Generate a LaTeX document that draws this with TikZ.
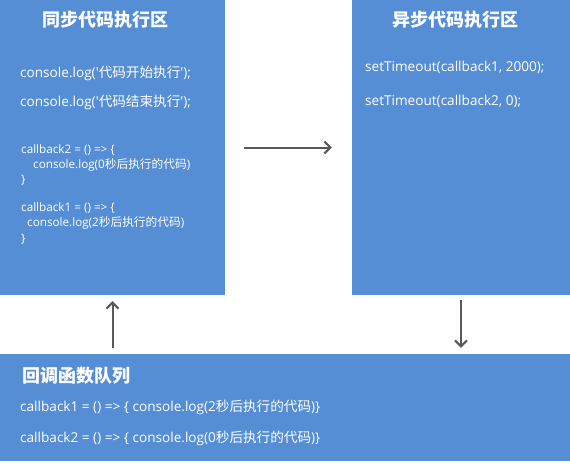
\documentclass[tikz,border=0pt]{standalone}
\usepackage{fontspec}
\setmainfont{Open Sans}
\newfontfamily\cjk{Noto Sans CJK SC}
\usetikzlibrary{arrows.meta}
\definecolor{boxblue}{HTML}{558ED5}
\definecolor{arrowgray}{HTML}{595959}
\newcommand{\zh}[1]{{\cjk #1}}
\newcommand{\sq}{\textquotesingle}
\tikzset{
  panel/.style={fill=boxblue, draw=none, inner sep=0pt},
  title/.style={text=white, inner sep=0pt, font=\cjk\bfseries\fontsize{18}{20}\selectfont},
  codebig/.style={text=white, inner sep=0pt, anchor=west, font=\fontsize{13.6}{15}\selectfont},
  codesmall/.style={text=white, inner sep=0pt, anchor=west, font=\fontsize{11.7}{13}\selectfont},
  flow/.style={draw=arrowgray, line width=2pt, -{Straight Barb[length=6pt,width=12pt,line width=2pt]}},
}
\begin{document}
\begin{tikzpicture}[x=1pt,y=-1pt]
\useasboundingbox (0,0) rectangle (570,467);
\node[panel, minimum width=225pt, minimum height=295pt] (sync) at (112.5,147.5) {};
\node[panel, minimum width=218pt, minimum height=295pt] (async) at (461,147.5) {};
\node[panel, minimum width=570pt, minimum height=107pt] (queue) at (285,407.5) {};

\node[title] (t1) at (105,20) {同步代码执行区};
\node[codebig] (s1) at (20,73) {console.log(\sq\zh{代码开始执行}\sq);};
\node[codebig] (s2) at (20,102) {console.log(\sq\zh{代码结束执行}\sq);};
\node[codesmall] (c1) at (21,150) {callback2 = () => \{};
\node[codesmall] (c2) at (33,165) {console.log(0\zh{秒后执行的代码})};
\node[codesmall] (c3) at (21,180) {\}};
\node[codesmall] (c4) at (21,208) {callback1 = () => \{};
\node[codesmall] (c5) at (27,223) {console.log(2\zh{秒后执行的代码})};
\node[codesmall] (c6) at (21,239) {\}};

\node[title] (t2) at (455,20) {异步代码执行区};
\node[codebig] (a1) at (365,67) {setTimeout(callback1, 2000);};
\node[codebig] (a2) at (365,101) {setTimeout(callback2, 0);};

\node[title, anchor=west] (t3) at (22,376) {回调函数队列};
\node[codebig] (q1) at (20,407) {callback1 = () => \{ console.log(2\zh{秒后执行的代码})\}};
\node[codebig] (q2) at (20,438) {callback2 = () => \{ console.log(0\zh{秒后执行的代码})\}};

\draw[flow, shorten <=19pt, shorten >=20pt] (sync.east) -- (async.west);
\draw[flow, shorten <=5pt, shorten >=6pt] (async.south) -- (async.south |- queue.north);
\draw[flow, shorten <=6pt, shorten >=6pt] (sync.south |- queue.north) -- (sync.south);
\end{tikzpicture}
\end{document}
